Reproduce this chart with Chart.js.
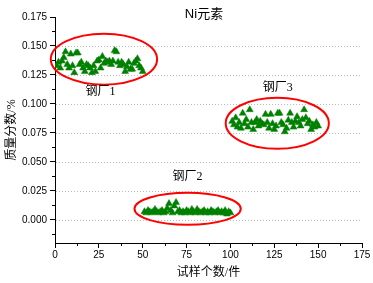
<!DOCTYPE html>
<html><head><meta charset="utf-8">
<script src="https://cdn.jsdelivr.net/npm/chart.js@4"></script>
<style>html,body{margin:0;padding:0;background:#fff;overflow:hidden}</style>
</head><body>
<canvas id="c" width="373" height="283"></canvas>
<script>
const chartTitle = 'Ni元素';
const xAxisTitle = '试样个数/件';
const yAxisTitle = '质量分数/%';
const plantNames = ['钢厂1', '钢厂2', '钢厂3'];

const xTicks = [0, 25, 50, 75, 100, 125, 150, 175];
const yTicks = [0, 0.025, 0.05, 0.075, 0.1, 0.125, 0.15, 0.175];

const plant1Sample = [1,2,3,4,5,6,7,8,9,10,11,12,13,14,15,16,17,18,19,20,21,22,23,24,25,26,27,28,29,30,31,32,33,34,35,36,37,38,39,40,41,42,43,44,45,46,47,48,49,50];
const plant1Ni = [0.133,0.136,0.131,0.137,0.140,0.145,0.134,0.131,0.143,0.133,0.127,0.144,0.144,0.134,0.136,0.131,0.128,0.134,0.133,0.131,0.127,0.133,0.128,0.137,0.138,0.131,0.141,0.135,0.137,0.136,0.137,0.134,0.137,0.146,0.145,0.136,0.133,0.136,0.134,0.128,0.132,0.136,0.130,0.130,0.135,0.137,0.139,0.133,0.131,0.128];

const plant2Sample = [51,52,53,54,55,56,57,58,59,60,61,62,63,64,65,66,67,68,69,70,71,72,73,74,75,76,77,78,79,80,81,82,83,84,85,86,87,88,89,90,91,92,93,94,95,96,97,98,99,100];
const plant2Ni = [0.007,0.006,0.008,0.007,0.006,0.007,0.009,0.007,0.006,0.007,0.008,0.006,0.007,0.010,0.014,0.008,0.006,0.012,0.015,0.007,0.008,0.006,0.007,0.006,0.008,0.007,0.006,0.009,0.007,0.006,0.009,0.007,0.006,0.007,0.008,0.006,0.007,0.006,0.008,0.007,0.006,0.007,0.008,0.006,0.007,0.006,0.008,0.005,0.007,0.006];

const plant3Sample = [101,102,103,104,105,106,107,108,109,110,111,112,113,114,115,116,117,118,119,120,121,122,123,124,125,126,127,128,129,130,131,132,133,134,135,136,137,138,139,140,141,142,143,144,145,146,147,148,149,150];
const plant3Ni = [0.085,0.082,0.088,0.080,0.084,0.079,0.092,0.083,0.0865,0.080,0.095,0.084,0.078,0.084,0.0865,0.081,0.085,0.083,0.082,0.091,0.084,0.079,0.091,0.083,0.078,0.081,0.092,0.092,0.084,0.082,0.076,0.079,0.086,0.092,0.084,0.080,0.085,0.089,0.084,0.081,0.0865,0.095,0.088,0.083,0.085,0.078,0.082,0.080,0.084,0.081];

const pts = (xs, ys) => xs.map((x, i) => ({x, y: ys[i]}));
const allPoints = [].concat(pts(plant1Sample, plant1Ni), pts(plant2Sample, plant2Ni), pts(plant3Sample, plant3Ni));

const FONT = "'Liberation Sans', Arial, 'Noto Sans CJK SC', sans-serif";
const CJK = "'Liberation Serif', 'Noto Sans CJK SC', serif";

// annotation geometry in data units
const groups = [
  {cx: 27.9, cy: 0.1386, rx: 30.3, ry: 0.0220, lx: 25.9, ly: 0.1105},
  {cx: 75.6, cy: 0.0095, rx: 30.3, ry: 0.0138, lx: 75.6, ly: 0.0371},
  {cx: 126.7, cy: 0.0833, rx: 29.4, ry: 0.0220, lx: 127.0, ly: 0.1140}
];

const decor = {
  id: 'decor',
  beforeDatasetsDraw(chart) {
    const {ctx, chartArea: a, scales: {x, y}} = chart;
    ctx.save();
    ctx.strokeStyle = '#bdbdbd';
    ctx.lineWidth = 1;
    ctx.setLineDash([1, 2]);
    yTicks.slice(0, -1).forEach(v => {
      const py = Math.round(y.getPixelForValue(v)) + 0.5;
      ctx.beginPath(); ctx.moveTo(a.left + 1, py); ctx.lineTo(a.right, py); ctx.stroke();
    });
    ctx.setLineDash([]);
    ctx.strokeStyle = '#000';
    for (let i = 0; i < xTicks.length - 1; i++) {
      const px = Math.round(x.getPixelForValue((xTicks[i] + xTicks[i + 1]) / 2)) + 0.5;
      ctx.beginPath(); ctx.moveTo(px, a.bottom); ctx.lineTo(px, a.bottom + 3); ctx.stroke();
    }
    const yMinor = [-0.0125];
    for (let i = 0; i < yTicks.length - 1; i++) yMinor.push((yTicks[i] + yTicks[i + 1]) / 2);
    yMinor.forEach(v => {
      const py = Math.round(y.getPixelForValue(v)) + 0.5;
      ctx.beginPath(); ctx.moveTo(a.left, py); ctx.lineTo(a.left - 3, py); ctx.stroke();
    });
    ctx.restore();
  },
  afterDatasetsDraw(chart) {
    const {ctx, chartArea: a, scales: {x, y}} = chart;
    ctx.save();
    ctx.strokeStyle = '#ff0000';
    ctx.lineWidth = 2;
    groups.forEach((g, i) => {
      const cx = x.getPixelForValue(g.cx), cy = y.getPixelForValue(g.cy);
      const rx = x.getPixelForValue(g.cx + g.rx) - cx;
      const ry = cy - y.getPixelForValue(g.cy + g.ry);
      ctx.beginPath(); ctx.ellipse(cx, cy, rx, ry, 0, 0, Math.PI * 2); ctx.stroke();
      ctx.fillStyle = '#000';
      ctx.font = "12px " + CJK;
      ctx.textAlign = 'center'; ctx.textBaseline = 'middle';
      ctx.fillText(plantNames[i], x.getPixelForValue(g.lx), y.getPixelForValue(g.ly));
    });
    ctx.fillStyle = '#000';
    ctx.font = "13px " + FONT;
    ctx.textAlign = 'center'; ctx.textBaseline = 'middle';
    ctx.fillText(chartTitle, 204, 14);
    ctx.font = "12px " + CJK;
    ctx.fillText(xAxisTitle, (a.left + a.right) / 2, 273);
    ctx.translate(12, (a.top + a.bottom) / 2);
    ctx.rotate(-Math.PI / 2);
    ctx.fillText(yAxisTitle, 0, 0);
    ctx.restore();
  }
};

new Chart(document.getElementById('c'), {
  type: 'scatter',
  data: {
    datasets: [{
      data: allPoints,
      pointStyle: 'triangle',
      pointRadius: 4,
      backgroundColor: '#008000',
      borderColor: '#008000',
      borderWidth: 0.5
    }]
  },
  options: {
    responsive: false,
    devicePixelRatio: 1,
    animation: false,
    layout: {padding: {left: 0, top: 17, right: 11, bottom: 0}},
    plugins: {legend: {display: false}, tooltip: {enabled: false}, title: {display: false}},
    scales: {
      x: {
        type: 'linear', min: 0, max: 175,
        afterBuildTicks: s => { s.ticks = xTicks.map(v => ({value: v})); },
        afterFit: s => { s.height = 40; },
        ticks: {font: {size: 10, family: FONT}, color: '#000', padding: 1, maxRotation: 0, autoSkip: false, callback: v => String(v)},
        grid: {display: true, drawOnChartArea: false, drawTicks: true, tickLength: 5, color: '#000'},
        border: {display: true, color: '#000', width: 1}
      },
      y: {
        type: 'linear', min: -0.02, max: 0.175,
        afterBuildTicks: s => { s.ticks = yTicks.map(v => ({value: v})); },
        afterFit: s => { s.width = 55; },
        ticks: {font: {size: 10, family: FONT}, color: '#000', padding: 3, autoSkip: false, callback: v => Number(v).toFixed(3)},
        grid: {display: true, drawOnChartArea: false, drawTicks: true, tickLength: 5, color: '#000'},
        border: {display: true, color: '#000', width: 1}
      }
    }
  },
  plugins: [decor]
});
</script>
</body></html>
